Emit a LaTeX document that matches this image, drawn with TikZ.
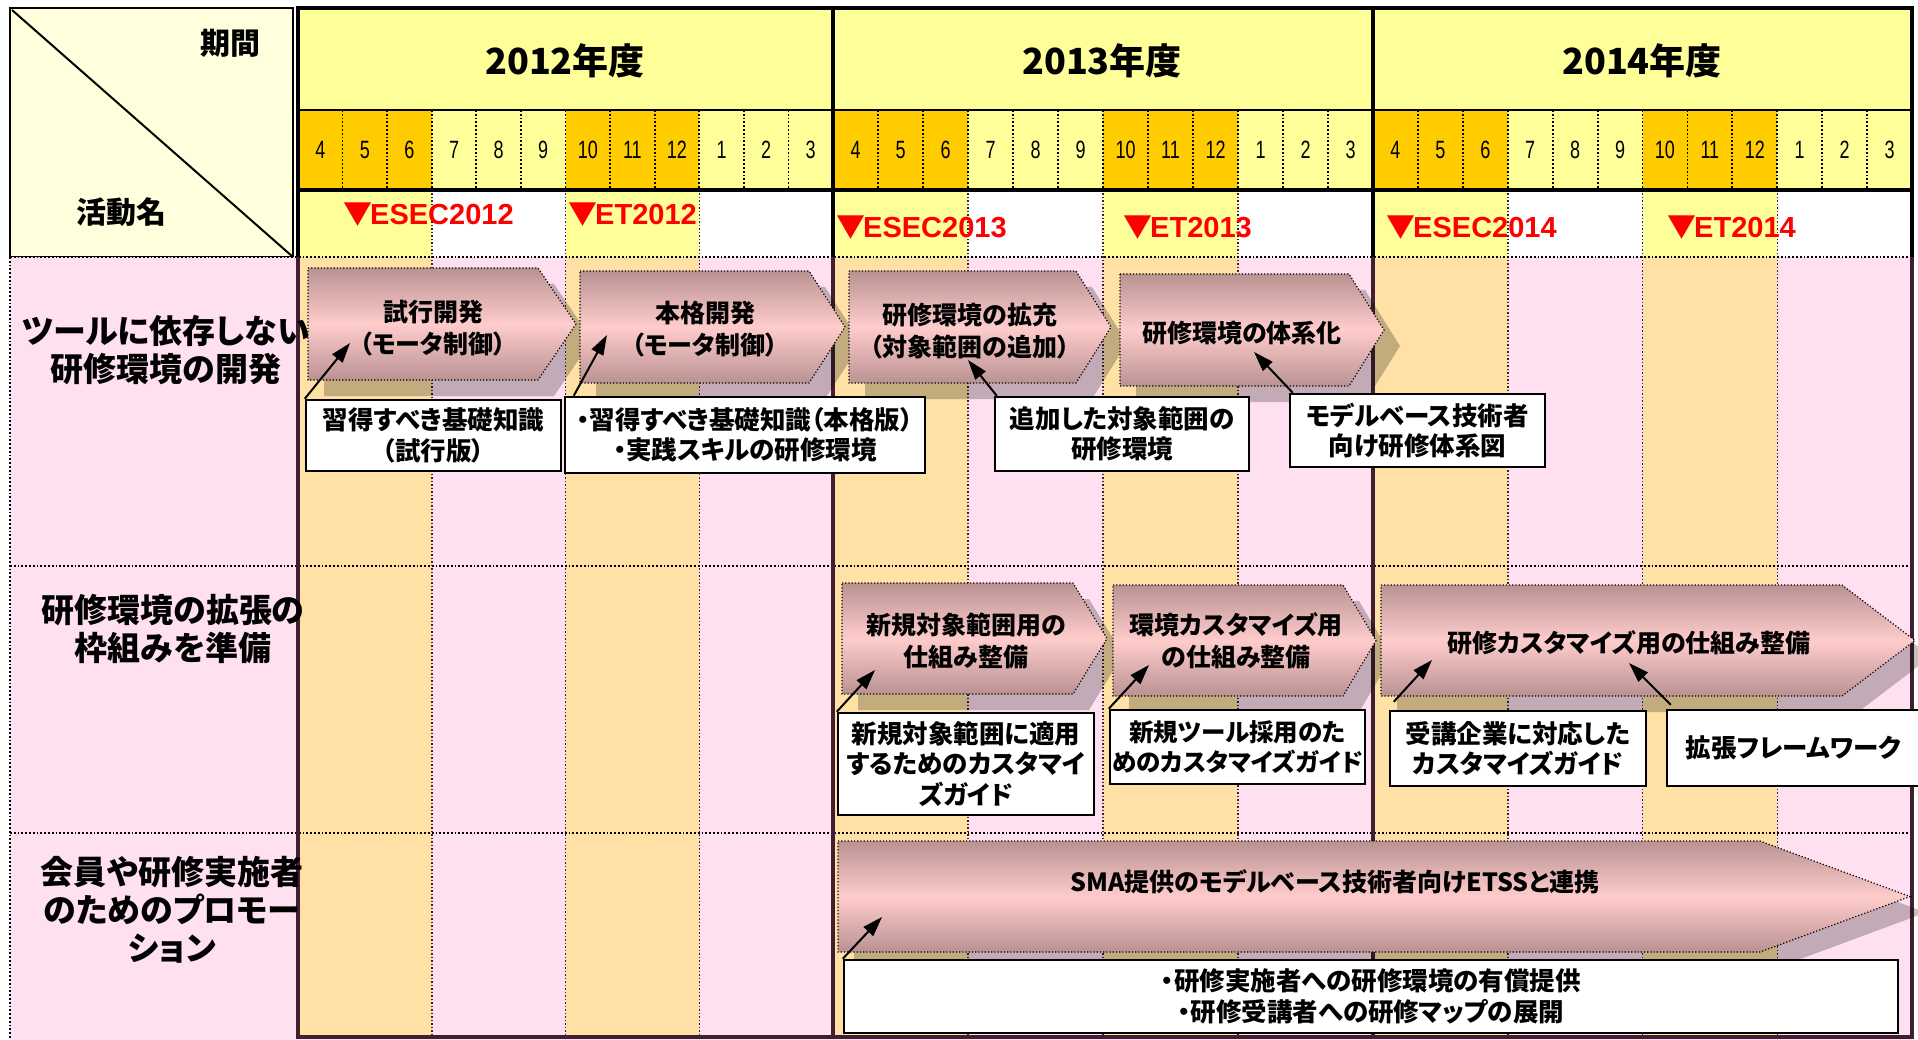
\documentclass[tikz,border=0pt]{standalone}
\usepackage{fontspec}
\setmainfont{Noto Sans CJK JP}[RawFeature=+palt]
\newfontfamily\lsans{Liberation Sans}
\newfontfamily\trifont{Noto Sans CJK JP}
\usetikzlibrary{arrows.meta,calc}
\definecolor{hdrbox}{HTML}{FFFFDD}
\definecolor{yel}{HTML}{FFFF99}
\definecolor{orn}{HTML}{FFCC00}
\definecolor{peach}{HTML}{FFE1A5}
\definecolor{pinkbg}{HTML}{FFE0F0}
\definecolor{darkline}{HTML}{402030}
\definecolor{chevdark}{HTML}{BA9292}
\definecolor{chevlight}{HTML}{FFCCCC}
\definecolor{evred}{HTML}{FF0000}
\tikzset{
  chevfill/.style={top color=chevdark, bottom color=chevdark, middle color=chevlight},
  chevline/.style={draw=black, dotted, line width=1.2pt},
  chevshadow/.style={fill=black, opacity=0.24},
  chevtext/.style={font=\bfseries\fontsize{25}{32}\selectfont, align=center, inner sep=0pt},
  notebox/.style={draw=black, line width=2.5pt, fill=white, align=center, inner sep=0pt, font=\bfseries\fontsize{25.5}{30.5}\selectfont},
  arr/.style={line width=2pt, -{Triangle[length=20pt,width=13pt]}},
  rowlabel/.style={font=\bfseries\fontsize{33}{38}\selectfont, align=center, inner sep=0pt},
  evlabel/.style={font=\lsans\bfseries\fontsize{29}{29}\selectfont, text=evred, anchor=west, inner sep=0pt},
  monthlabel/.style={inner sep=0pt},
  dotline/.style={black, dotted, line width=1.8pt},
  yearlabel/.style={font=\bfseries\fontsize{36}{36}\selectfont, inner sep=0pt},
  hdrlabel/.style={font=\bfseries\fontsize{30}{30}\selectfont, inner sep=0pt},
}
\newcommand{\tri}{{\trifont\bfseries ▼}\hspace{-2pt}}
\newcommand{\mychev}[5]{%
  \fill[chevshadow, shift={(16,16)}] (#1,#2) -- (#3,#2) -- (#4,{(#2+#5)/2}) -- (#3,#5) -- (#1,#5) -- cycle;
  \draw[chevfill, chevline] (#1,#2) -- (#3,#2) -- (#4,{(#2+#5)/2}) -- (#3,#5) -- (#1,#5) -- cycle;
}
\begin{document}
\begin{tikzpicture}[x=1pt, y=-1pt]
\fill[white] (0,0) rectangle (1918,1040);
\useasboundingbox (0,0) rectangle (1918,1040);

% header left box
\draw[fill=hdrbox, line width=2pt] (10,8) rectangle (293,257);
\draw[line width=2pt] (12,10) -- (293,257);
\node[hdrlabel] (kikan) at (230,43) {期間};
\node[hdrlabel] (katsudo) at (121,212) {活動名};

% base fills
\fill[yel] (298,8) rectangle (1912,110);
\fill[yel] (298,110) rectangle (1912,190);
\fill[white] (298,190) rectangle (1912,257);
\fill[pinkbg] (10,257) rectangle (1912,1040);

\foreach \s/\e [count=\j] in {298/833, 833/1373, 1373/1912} {
  \pgfmathsetmacro\w{(\e-\s)/12}
  \pgfmathsetmacro\ga{\s}
  \pgfmathsetmacro\gb{\s+3*\w}
  \pgfmathsetmacro\gc{\s+6*\w}
  \pgfmathsetmacro\gd{\s+9*\w}
  \fill[orn] (\ga,110) rectangle (\gb,190);
  \fill[orn] (\gc,110) rectangle (\gd,190);
  \fill[yel] (\ga,190) rectangle (\gb,257);
  \fill[yel] (\gc,190) rectangle (\gd,257);
  \fill[peach] (\ga,257) rectangle (\gb,1037);
  \fill[peach] (\gc,257) rectangle (\gd,1037);
  \foreach \k in {1,...,11} {
    \draw[dotline] ({\s+\k*\w},110) -- ({\s+\k*\w},190);
  }
  \foreach \k in {3,6,9} {
    \draw[dotline, line width=1.5pt, darkline] ({\s+\k*\w},190) -- ({\s+\k*\w},1037);
  }
  \foreach \m [count=\k from 0] in {4,5,6,7,8,9,10,11,12,1,2,3} {
    \node[monthlabel] (mon-\j-\k) at ({\s+(\k+0.5)*\w},150) {\scalebox{0.72}[1]{\lsans\fontsize{25}{25}\selectfont \m}};
  }
}

% horizontal dotted lines
\draw[dotline] (10,257) -- (1912,257);
\draw[dotline] (10,566) -- (1912,566);
\draw[dotline] (10,833) -- (1912,833);
\draw[dotline] (10,257) -- (10,1040);

% header lines
\draw[line width=2.5pt] (298,110) -- (1912,110);
\draw[line width=4pt] (298,190) -- (1912,190);
\draw[line width=4pt] (296,8) -- (1914,8);
\foreach \xx in {298,833,1373,1912} {
  \draw[line width=3.5pt] (\xx,8) -- (\xx,257);
  \draw[line width=3.5pt, darkline] (\xx,257) -- (\xx,1037);
}
\draw[line width=4pt, darkline] (296,1037) -- (1914,1037);

% year labels
\node[yearlabel] (y2012) at (565,61) {2012年度};
\node[yearlabel] (y2013) at (1102,61) {2013年度};
\node[yearlabel] (y2014) at (1642,61) {2014年度};

% events
\node[evlabel] (ev1) at (343,215) {\tri ESEC2012};
\node[evlabel] (ev2) at (568,215) {\tri ET2012};
\node[evlabel] (ev3) at (836,228) {\tri ESEC2013};
\node[evlabel] (ev4) at (1123,228) {\tri ET2013};
\node[evlabel] (ev5) at (1386,228) {\tri ESEC2014};
\node[evlabel] (ev6) at (1667,228) {\tri ET2014};

% row labels
\node[rowlabel] (r1) at (166,350) {ツールに依存しない\\研修環境の開発};
\node[rowlabel] (r2) at (173,629) {研修環境の拡張の\\枠組みを準備};
\node[rowlabel] (r3) at (172,910) {会員や研修実施者\\のためのプロモー\\ション};

% chevrons
\mychev{308}{268}{538}{576}{380}
\node[chevtext] (c1) at (433,328) {試行開発\\（モータ制御）};
\mychev{580}{271}{809}{845}{383}
\node[chevtext] (c2) at (705,329) {本格開発\\（モータ制御）};
\mychev{849}{271}{1076}{1111}{383}
\node[chevtext] (c3) at (970,331) {研修環境の拡充\\（対象範囲の追加）};
\mychev{1120}{274}{1349}{1384}{386}
\node[chevtext] (c4) at (1242,333) {研修環境の体系化};
\mychev{842}{583}{1073}{1107}{694}
\node[chevtext] (c5) at (966,641) {新規対象範囲用の\\仕組み整備};
\mychev{1113}{585}{1343}{1376}{696}
\node[chevtext] (c6) at (1236,641) {環境カスタマイズ用\\の仕組み整備};
\mychev{1381}{585}{1842}{1915}{696}
\node[chevtext] (c7) at (1629,643) {研修カスタマイズ用の仕組み整備};
\mychev{838}{841}{1760}{1910}{952}
\node[chevtext] (c8) at (1335,882) {SMA提供のモデルベース技術者向けETSSと連携};

% note boxes
\node[notebox, minimum width=255pt, minimum height=71pt] (b1) at (433.5,435.5) {習得すべき基礎知識\\（試行版）};
\node[notebox, minimum width=360pt, minimum height=76pt] (b2) at (745,435) {・習得すべき基礎知識（本格版）\\・実践スキルの研修環境};
\node[notebox, minimum width=254pt, minimum height=74pt] (b3) at (1122,434) {追加した対象範囲の\\研修環境};
\node[notebox, minimum width=255pt, minimum height=73pt] (b4) at (1417.5,430.5) {モデルベース技術者\\向け研修体系図};
\node[notebox, minimum width=256pt, minimum height=102pt] (b5) at (966,764) {新規対象範囲に適用\\するためのカスタマイ\\ズガイド};
\node[notebox, minimum width=255pt, minimum height=74pt, font=\bfseries\fontsize{24.5}{30.5}\selectfont] (b6) at (1237.5,747) {新規ツール採用のた\\めのカスタマイズガイド};
\node[notebox, minimum width=256pt, minimum height=75pt] (b7) at (1518,748.5) {受講企業に対応した\\カスタマイズガイド};
\node[notebox, minimum width=253pt, minimum height=76pt] (b8) at (1793.5,748) {拡張フレームワーク};
\node[notebox, minimum width=1054pt, minimum height=73pt] (b9) at (1371,996.5) {・研修実施者への研修環境の有償提供\\・研修受講者への研修マップの展開};

% arrow targets
\coordinate (t1) at (350,343);
\coordinate (t2) at (607,335);
\coordinate (t3) at (968,360);
\coordinate (t4) at (1254,352);
\coordinate (t5) at (875,670);
\coordinate (t6) at (1149,665);
\coordinate (t7) at (1432,660);
\coordinate (t8) at (1629,663);
\coordinate (t9) at (882,917);

\draw[arr] (b1.north west) -- (t1);
\draw[arr] ([xshift=10pt]b2.north west) -- (t2);
\draw[arr] ([xshift=3pt]b3.north west) -- (t3);
\draw[arr] ([xshift=4pt]b4.north west) -- (t4);
\draw[arr] (b5.north west) -- (t5);
\draw[arr] (b6.north west) -- (t6);
\draw[arr] ([xshift=5pt,yshift=8pt]b7.north west) -- (t7);
\draw[arr] ([xshift=5pt,yshift=4pt]b8.north west) -- (t8);
\draw[arr] (b9.north west) -- (t9);
\end{tikzpicture}
\end{document}
